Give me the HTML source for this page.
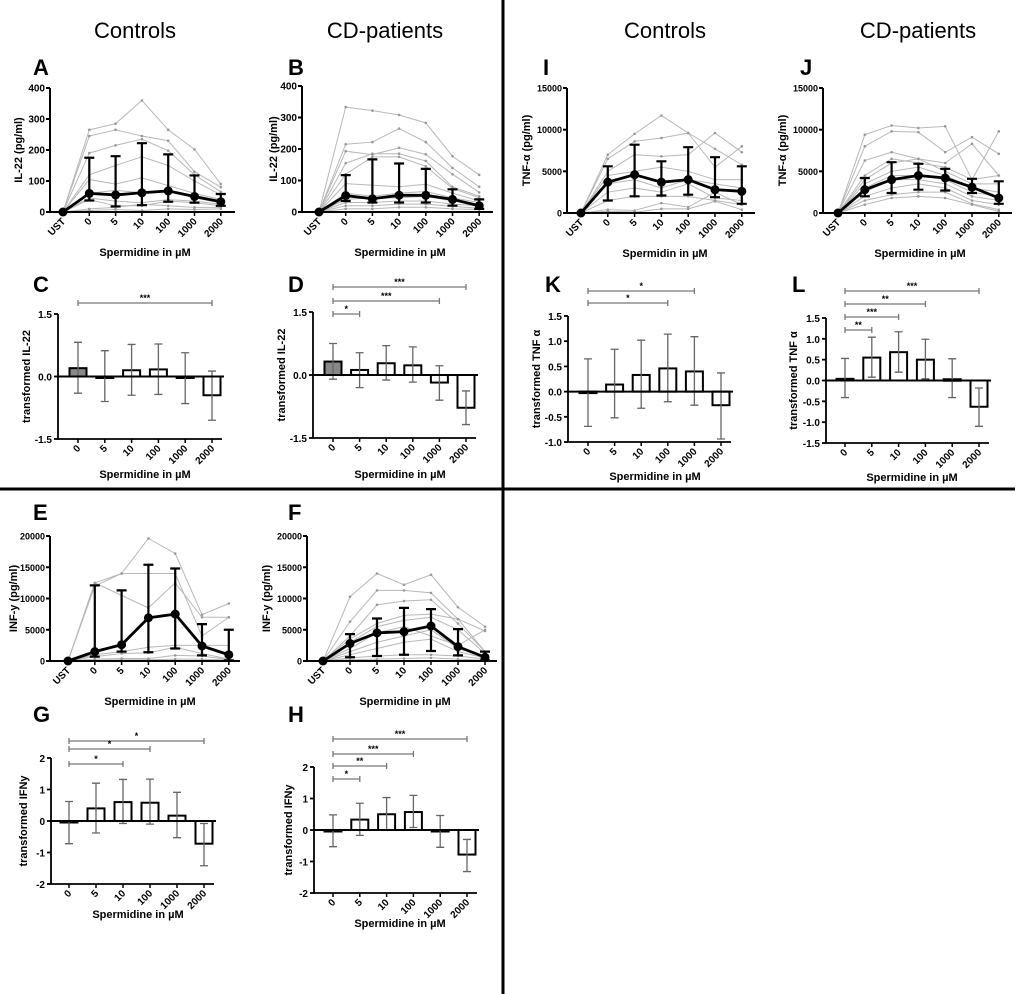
<!DOCTYPE html>
<html><head><meta charset="utf-8">
<style>
body{margin:0;background:#fff;}
svg{display:block;font-family:"Liberation Sans",Arial,sans-serif;}
</style></head>
<body>
<svg id="fig" width="1020" height="994" viewBox="0 0 1020 994">
<rect x="0" y="0" width="1020" height="994" fill="#fff"/>
<text x="135" y="38" font-size="22" text-anchor="middle">Controls</text>
<text x="385" y="38" font-size="22" text-anchor="middle">CD-patients</text>
<text x="665" y="38" font-size="22" text-anchor="middle">Controls</text>
<text x="918" y="38" font-size="22" text-anchor="middle">CD-patients</text>
<line x1="503" y1="0" x2="503" y2="994" stroke="#000" stroke-width="3"/>
<line x1="0" y1="489" x2="1015" y2="489" stroke="#000" stroke-width="3"/>
</svg>
<script>
// ---------- data ----------
const lineCats = ["UST","0","5","10","100","1000","2000"];
const barCats = ["0","5","10","100","1000","2000"];

const aMean=[0,60,55,62,68,50,33], aHi=[0,175,180,222,186,118,58], aLo=[0,37,18,22,33,30,20];
const aInd=[[0,265,285,360,265,202,90],[0,245,265,245,230,130,80],[0,190,215,235,198,120,65],[0,120,150,178,150,100,55],[0,105,90,110,85,60,40],[0,60,70,62,70,45,30],[0,45,35,30,40,35,25],[0,40,20,20,35,30,20],[0,10,15,25,20,15,15],[0,5,8,5,10,8,10]];
const bMean=[0,52,42,53,53,40,20], bHi=[0,117,167,154,137,72,40], bLo=[0,35,30,30,30,20,10];
const bInd=[[0,333,322,308,283,177,118],[0,215,222,265,222,140,80],[0,193,182,204,183,120,62],[0,155,185,185,162,80,50],[0,120,175,175,145,75,45],[0,90,85,80,88,60,35],[0,60,50,60,65,45,30],[0,40,45,45,50,35,25],[0,30,30,35,35,25,20],[0,20,20,25,25,18,12],[0,10,10,15,15,10,8]];
const eMean=[0,1500,2600,6900,7500,2400,1000], eHi=[0,12100,11300,15400,14800,5900,5000], eLo=[0,700,1500,1400,2000,900,100];
const eInd=[[0,12000,14000,19600,17200,7400,9200],[0,12500,14000,14000,14000,4000,7000],[0,12500,10500,8500,12500,7000,7000],[0,1000,1500,2200,2500,2500,2500],[0,700,1200,1300,2200,1200,300],[0,300,400,400,900,800,200],[0,100,200,200,300,300,100]];
const fMean=[0,2800,4500,4700,5600,2300,600], fHi=[0,4300,6800,8500,8300,5100,1500], fLo=[0,600,800,1000,1600,900,100];
const fInd=[[0,10300,14000,12200,13800,8600,5500],[0,6300,11300,11300,10900,6700,4800],[0,4000,9000,9600,9800,6000,1500],[0,3500,6000,7300,7500,6700,1500],[0,3000,5500,6500,7000,5000,1200],[0,2000,4500,5500,4000,2500,5000],[0,1500,3000,4000,5000,2000,800],[0,1000,2000,3000,3500,1500,500],[0,500,800,1000,1000,800,300],[0,200,300,400,500,300,100]];
const iMean=[0,3700,4600,3700,4000,2800,2600], iHi=[0,5600,8200,6200,7900,6700,5600], iLo=[0,1500,2000,2100,2200,1900,1100];
const iInd=[[0,7000,9500,11700,9600,7700,5800],[0,6500,8600,9000,9600,5500,8000],[0,5000,7000,6800,7000,9600,7300],[0,4500,5000,5500,5000,4000,4000],[0,3500,4000,3000,4000,3500,3000],[0,2500,3000,2500,3500,1800,1500],[0,1500,2000,2000,2000,1500,1000],[0,400,300,1200,700,2500,1000],[0,200,100,500,500,1400,400]];
const jMean=[0,2800,4000,4500,4200,3100,1800], jHi=[0,4200,6100,5900,5300,4100,3800], jLo=[0,2000,2400,2800,2700,2400,1100];
const jInd=[[0,9400,10500,10200,10400,4000,9800],[0,8000,9800,9700,7300,9100,7100],[0,6300,7300,6500,6000,8300,4500],[0,4500,6500,6000,5500,4000,4500],[0,4000,6000,6500,5000,3500,3500],[0,3500,5000,5500,4500,3000,2500],[0,3000,4500,4500,4000,2500,2000],[0,2500,4000,4000,3500,2000,1500],[0,2000,3000,3500,3000,1500,1000],[0,1500,2200,2500,2500,1100,400],[0,1000,1800,2000,1800,1000,200]];

const cVal=[0.2,0,0.15,0.17,-0.03,-0.45], cHi=[0.82,0.62,0.77,0.78,0.57,0.13], cLo=[-0.4,-0.6,-0.45,-0.43,-0.65,-1.05];
const dVal=[0.32,0.12,0.28,0.23,-0.18,-0.78], dHi=[0.75,0.53,0.7,0.67,0.22,-0.38], dLo=[-0.1,-0.3,-0.12,-0.17,-0.6,-1.18];
const kVal=[-0.01,0.14,0.33,0.46,0.4,-0.27], kHi=[0.65,0.84,1.02,1.14,1.09,0.37], kLo=[-0.69,-0.52,-0.33,-0.2,-0.27,-0.94];
const lVal=[0.04,0.55,0.68,0.5,0.03,-0.63], lHi=[0.53,1.04,1.17,0.99,0.52,-0.18], lLo=[-0.41,0.08,0.2,0.04,-0.41,-1.1];
const gVal=[-0.03,0.4,0.6,0.58,0.17,-0.72], gHi=[0.62,1.2,1.32,1.33,0.91,-0.08], gLo=[-0.72,-0.38,-0.08,-0.1,-0.53,-1.42];
const hVal=[-0.01,0.33,0.5,0.57,-0.03,-0.78], hHi=[0.48,0.85,1.03,1.1,0.46,-0.3], hLo=[-0.53,-0.17,0,0.08,-0.55,-1.32];

const cSig=[[0,5,"***"]], dSig=[[0,5,"***"],[0,4,"***"],[0,1,"*"]];
const kSig=[[0,4,"*"],[0,3,"*"]], lSig=[[0,5,"***"],[0,3,"**"],[0,2,"***"],[0,1,"**"]];
const gSig=[[0,5,"*"],[0,3,"*"],[0,2,"*"]], hSig=[[0,5,"***"],[0,3,"***"],[0,2,"**"],[0,1,"*"]];

const ilTicks=[0,100,200,300,400], infTicks=[0,5000,10000,15000,20000], tnfTicks=[0,5000,10000,15000];
const t15=[-1.5,0,1.5], tK=[-1,-0.5,0,0.5,1,1.5], tL=[-1.5,-1,-0.5,0,0.5,1,1.5], t2=[-2,-1,0,1,2];

// ---------- drawing ----------
const svg=document.getElementById('fig');
const NS='http://www.w3.org/2000/svg';
function mk(tag,attrs,parent){const e=document.createElementNS(NS,tag);for(const k in attrs)e.setAttribute(k,attrs[k]);(parent||svg).appendChild(e);return e;}
function txt(x,y,s,size,anchor,weight,parent,rot){const t=mk('text',{x:x,y:y,'font-size':size,'text-anchor':anchor,'font-weight':weight},parent);if(rot)t.setAttribute('transform','rotate('+rot+' '+x+' '+y+')');t.textContent=s;return t;}

function letter(x,y,s){const t=txt(x,y,s,22,'start','bold');

}

function linePanel(o,ticks,mean,hi,lo,ind){
  const g=mk('g',{});
  
  
  const max=ticks[ticks.length-1];
  const Y=v=>o.y0-(v/max)*(o.y0-o.y1);
  const X=i=>o.c0+i*o.dx;
  ind.forEach(s=>{
    const p=mk('polyline',{points:s.map((v,i)=>X(i)+','+Y(v)).join(' '),fill:'none',stroke:'#b8b8b8','stroke-width':1},g);
    
    
    s.forEach((v,i)=>{if(i>0)mk('circle',{cx:X(i),cy:Y(v),r:1.3,fill:'#999'},g);});
  });
  mean.forEach((v,i)=>{if(i===0)return;
    const e=mk('path',{d:'M'+X(i)+' '+Y(hi[i])+'V'+Y(lo[i])+'M'+(X(i)-5)+' '+Y(hi[i])+'h10M'+(X(i)-5)+' '+Y(lo[i])+'h10',stroke:'#000','stroke-width':2.2,fill:'none'},g);
    
    });
  const m=mk('polyline',{points:mean.map((v,i)=>X(i)+','+Y(v)).join(' '),fill:'none',stroke:'#000','stroke-width':2.8},g);
  
  
  mean.forEach((v,i)=>{const c=mk('circle',{cx:X(i),cy:Y(v),r:4.5,fill:'#000'},g);
    
    });
  mk('path',{d:'M'+o.ax+' '+o.y1+'V'+o.y0+'H'+o.xe,stroke:'#000','stroke-width':2,fill:'none'},g);
  ticks.forEach(t=>{mk('line',{x1:o.ax-4,x2:o.ax,y1:Y(t),y2:Y(t),stroke:'#000','stroke-width':2},g);
    txt(o.ax-5,Y(t)+3.5,String(t),o.tf||10,'end','bold',g);});
  lineCats.forEach((c,i)=>{mk('line',{x1:X(i),x2:X(i),y1:o.y0,y2:o.y0+4,stroke:'#000','stroke-width':1.5},g);
    txt(X(i)+3,o.y0+10,c,10,'end','bold',g,-45);});
  txt(o.ytx,(o.y0+o.y1)/2,o.yt,11,'middle','bold',g,-90);
  txt(o.xtx,o.xty,o.xt,11,'middle','bold',g);
}

function barPanel(o,ticks,val,hi,lo,sig){
  const g=mk('g',{});
  
  
  const mn=ticks[0],mx=ticks[ticks.length-1];
  const Y=v=>o.yb-(v-mn)/(mx-mn)*(o.yb-o.yt);
  const X=i=>o.c0+i*o.dx;
  mk('path',{d:'M'+o.ax+' '+Y(mx)+'V'+Y(mn)+'H'+(X(5)+10),stroke:'#000','stroke-width':1.8,fill:'none'},g);
  ticks.forEach(t=>{mk('line',{x1:o.ax-4,x2:o.ax,y1:Y(t),y2:Y(t),stroke:'#000','stroke-width':1.8},g);
    txt(o.ax-6,Y(t)+4,t===0?'0'+(o.dec?'.0':''):(o.dec?t.toFixed(1):String(t)),10,'end','bold',g);});
  val.forEach((v,i)=>{
    const y=Math.min(Y(v),Y(0)),h=Math.max(Math.abs(Y(v)-Y(0)),1.5);
    const r=mk('rect',{x:X(i)-8.5,y:y,width:17,height:h,fill:(o.fill&&i===0)?'#888':'#fff',stroke:'#000','stroke-width':2},g);
    
    
    const e=mk('path',{d:'M'+X(i)+' '+Y(hi[i])+'V'+Y(lo[i])+'M'+(X(i)-4)+' '+Y(hi[i])+'h8M'+(X(i)-4)+' '+Y(lo[i])+'h8',stroke:'#666','stroke-width':1.3,fill:'none'},g);
    
    
  });
  mk('line',{x1:o.ax,x2:X(5)+12,y1:Y(0),y2:Y(0),stroke:'#000','stroke-width':2},g);
  barCats.forEach((c,i)=>{mk('line',{x1:X(i),x2:X(i),y1:Y(mn),y2:Y(mn)+4,stroke:'#000','stroke-width':1.5},g);
    txt(X(i)+3,Y(mn)+10,c,10,'end','bold',g,-45);});
  sig.forEach((s,k)=>{const y=o.sy[k];
    const p=mk('path',{d:'M'+X(s[0])+' '+y+'H'+X(s[1])+'M'+X(s[0])+' '+(y-3)+'v6M'+X(s[1])+' '+(y-3)+'v6',stroke:'#777','stroke-width':1.3,fill:'none'},g);
    
    
    txt((X(s[0])+X(s[1]))/2,y-2,s[2],9,'middle','bold',g);});
  txt(o.ytx,(o.yt+o.yb)/2,o.ytitle,11,'middle','bold',g,-90);
  txt(o.xtx,o.xty,'Spermidine in \u00b5M',11,'middle','bold',g);
}

const SP='Spermidine in \u00b5M';
linePanel({name:'panel-a-il22-controls',ax:50,xe:235,y1:88,y0:212,c0:63,dx:26.3,ytx:22,yt:'IL-22 (pg/ml)',xtx:145,xty:256,xt:SP},ilTicks,aMean,aHi,aLo,aInd);
linePanel({name:'panel-b-il22-cd',ax:302,xe:493,y1:86,y0:212,c0:319,dx:26.7,ytx:277,yt:'IL-22 (pg/ml)',xtx:400,xty:256,xt:SP},ilTicks,bMean,bHi,bLo,bInd);
linePanel({name:'panel-e-infg-controls',ax:50,xe:240,y1:536,y0:661,c0:68,dx:26.8,ytx:17,tf:9,yt:'INF-y (pg/ml)',xtx:150,xty:705,xt:SP},infTicks,eMean,eHi,eLo,eInd);
linePanel({name:'panel-f-infg-cd',ax:307,xe:497,y1:536,y0:661,c0:323,dx:27,ytx:270,tf:9,yt:'INF-y (pg/ml)',xtx:405,xty:705,xt:SP},infTicks,fMean,fHi,fLo,fInd);
linePanel({name:'panel-i-tnf-controls',ax:567,xe:755,y1:88,y0:213,c0:581,dx:26.8,ytx:530,tf:9,yt:'TNF-\u03b1 (pg/ml)',xtx:665,xty:257,xt:'Spermidin in \u00b5M'},tnfTicks,iMean,iHi,iLo,iInd);
linePanel({name:'panel-j-tnf-cd',ax:823,xe:1012,y1:88,y0:213,c0:838,dx:26.8,ytx:786,tf:9,yt:'TNF-\u03b1  (pg/ml)',xtx:920,xty:257,xt:'Spermidine in \u00b5M'},tnfTicks,jMean,jHi,jLo,jInd);

barPanel({name:'panel-c-il22-transformed',ax:58,yt:314,yb:439,c0:78,dx:26.8,dec:true,fill:true,sy:[303],ytx:30,ytitle:'transformed IL-22',xtx:145,xty:478},t15,cVal,cHi,cLo,cSig);
barPanel({name:'panel-d-il22-transformed',ax:313,yt:312,yb:438,c0:333,dx:26.6,dec:true,fill:true,sy:[287,301,314],ytx:285,ytitle:'transformed IL-22',xtx:400,xty:478},t15,dVal,dHi,dLo,dSig);
barPanel({name:'panel-k-tnf-transformed',ax:568,yt:316,yb:442,c0:588,dx:26.6,dec:true,sy:[291,303],ytx:540,ytitle:'transformed TNF \u03b1',xtx:655,xty:480},tK,kVal,kHi,kLo,kSig);
barPanel({name:'panel-l-tnf-transformed',ax:826,yt:318,yb:443,c0:845,dx:26.8,dec:true,sy:[291,304,317,330],ytx:797,ytitle:'transformed TNF \u03b1',xtx:912,xty:481},tL,lVal,lHi,lLo,lSig);
barPanel({name:'panel-g-ifng-transformed',ax:51,yt:758,yb:884,c0:69,dx:27,sy:[741,749,764],ytx:27,ytitle:'transformed IFNy',xtx:138,xty:918},t2,gVal,gHi,gLo,gSig);
barPanel({name:'panel-h-ifng-transformed',ax:314,yt:767,yb:893,c0:333,dx:26.8,sy:[739,754,766,779],ytx:292,ytitle:'transformed IFNy',xtx:400,xty:927},t2,hVal,hHi,hLo,hSig);

letter(33,75,'A');letter(288,75,'B');letter(543,75,'I');letter(800,75,'J');
letter(33,292,'C');letter(288,292,'D');letter(545,292,'K');letter(792,292,'L');
letter(33,520,'E');letter(288,520,'F');letter(33,722,'G');letter(288,722,'H');
</script>
</body></html>
